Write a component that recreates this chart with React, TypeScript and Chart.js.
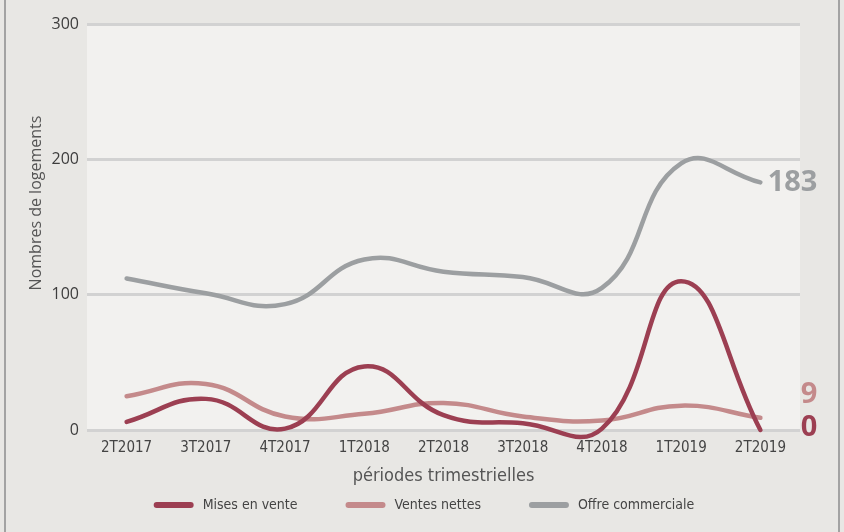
import React, { useEffect, useRef } from "react";
import { Chart, registerables } from "chart.js";

Chart.register(...registerables);

const periods = ["2T2017", "3T2017", "4T2017", "1T2018", "2T2018", "3T2018", "4T2018", "1T2019", "2T2019"];
const misesEnVente = [6, 23, 1, 47, 11, 5, 1, 110, 0];
const ventesNettes = [25, 34, 10, 12, 20, 10, 7, 18, 9];
const offreCommerciale = [112, 101, 93, 126, 117, 113, 105, 197, 183];
const seriesNames = ["Mises en vente", "Ventes nettes", "Offre commerciale"];
const yTicks = [0, 100, 200, 300];
const xTitle = "périodes trimestrielles";
const yTitle = "Nombres de logements";

const COLORS = ["#9c3f52", "#c48a8b", "#9c9fa1"];
const CONDENSED = "'Liberation Sans Narrow', 'DejaVu Sans Condensed', sans-serif";
const OPEN = "'Open Sans', sans-serif";

const decorPlugin = {
  id: "decor",
  beforeDraw(chart: any) {
    const { ctx, chartArea } = chart;
    ctx.save();
    ctx.fillStyle = "#f2f1ef";
    ctx.fillRect(chartArea.left, chartArea.top, chartArea.right - chartArea.left, chartArea.bottom - chartArea.top);
    ctx.restore();
  },
  afterDatasetsDraw(chart: any) {
    const { ctx } = chart;
    const dy = [-2, -23, 0];
    ctx.save();
    ctx.font = `bold 29px ${OPEN}`;
    ctx.textAlign = "right";
    ctx.textBaseline = "middle";
    chart.data.datasets.forEach((ds: any, i: number) => {
      const meta = chart.getDatasetMeta(i);
      const pt = meta.data[meta.data.length - 1];
      const v = ds.data[ds.data.length - 1];
      ctx.fillStyle = COLORS[i];
      ctx.fillText(String(v), pt.x + 57, pt.y + dy[i]);
    });
    ctx.restore();
  },
  afterDraw(chart: any) {
    const { ctx } = chart;
    ctx.save();
    ctx.translate(36, 203);
    ctx.rotate(-Math.PI / 2);
    ctx.font = `16px ${OPEN}`;
    ctx.fillStyle = "#555555";
    ctx.textAlign = "center";
    ctx.textBaseline = "middle";
    ctx.fillText(yTitle, 0, 0);
    ctx.restore();

    ctx.save();
    ctx.font = `14px ${CONDENSED}`;
    const box = 40;
    const gapText = 9;
    const gapItem = 48;
    const widths = seriesNames.map((n) => ctx.measureText(n).width);
    const total = widths.reduce((a, w) => a + box + gapText + w, 0) + gapItem * (seriesNames.length - 1);
    let x = 424 - total / 2;
    const y = 505;
    seriesNames.forEach((n, i) => {
      ctx.strokeStyle = COLORS[i];
      ctx.lineWidth = 6;
      ctx.lineCap = "round";
      ctx.beginPath();
      ctx.moveTo(x + 3, y);
      ctx.lineTo(x + box - 3, y);
      ctx.stroke();
      ctx.fillStyle = "#444444";
      ctx.textAlign = "left";
      ctx.textBaseline = "middle";
      ctx.fillText(n, x + box + gapText, y);
      x += box + gapText + widths[i] + gapItem;
    });
    ctx.restore();
  },
};

export default function App() {
  const ref = useRef<HTMLCanvasElement>(null);
  useEffect(() => {
    if (!ref.current) return;
    const mk = (label: string, data: number[], color: string) => ({
      label,
      data,
      borderColor: color,
      backgroundColor: color,
      borderWidth: 4.5,
      pointRadius: 0,
      tension: 0.45,
      capBezierPoints: false,
      clip: 12,
      fill: false,
      borderCapStyle: "round" as const,
    });
    const chart = new Chart(ref.current, {
      type: "line",
      data: {
        labels: periods,
        datasets: [
          mk(seriesNames[0], misesEnVente, COLORS[0]),
          mk(seriesNames[1], ventesNettes, COLORS[1]),
          mk(seriesNames[2], offreCommerciale, COLORS[2]),
        ],
      },
      options: {
        animation: false,
        responsive: false,
        maintainAspectRatio: false,
        layout: { padding: { left: 0, right: 44, top: 24, bottom: 0 } },
        plugins: {
          legend: { display: false },
          tooltip: { enabled: false },
        },
        scales: {
          x: {
            offset: true,
            grid: { display: false, drawTicks: false },
            border: { display: false },
            ticks: {
              padding: 9,
              color: "#444444",
              font: { family: CONDENSED, size: 15 },
              maxRotation: 0,
              autoSkip: false,
            },
            title: {
              display: true,
              text: xTitle,
              color: "#555555",
              font: { family: CONDENSED, size: 18 },
              padding: { top: 0, bottom: 45 },
            },
            afterFit(scale: any) {
              scale.height = 102;
            },
          },
          y: {
            min: 0,
            max: 300,
            afterBuildTicks(scale: any) {
              scale.ticks = yTicks.map((v) => ({ value: v }));
            },
            grid: { color: "#d2d2d2", lineWidth: 3, drawTicks: false },
            border: { display: false },
            ticks: {
              padding: 8,
              color: "#3d3d3d",
              font: { family: OPEN, size: 16 },
            },
            afterFit(scale: any) {
              scale.width = 87;
            },
          },
        },
      },
      plugins: [decorPlugin],
    });
    return () => chart.destroy();
  }, []);

  return (
    <div style={{ position: "fixed", left: 0, top: 0, width: 844, height: 532, background: "#e8e7e4" }}>
      <div
        style={{
          position: "absolute",
          left: 4,
          top: 0,
          width: 832,
          height: 532,
          borderLeft: "2px solid #a3a3a3",
          borderRight: "2px solid #a3a3a3",
        }}
      />
      <canvas ref={ref} width={844} height={532} style={{ position: "absolute", left: 0, top: 0, width: 844, height: 532 }} />
    </div>
  );
}
